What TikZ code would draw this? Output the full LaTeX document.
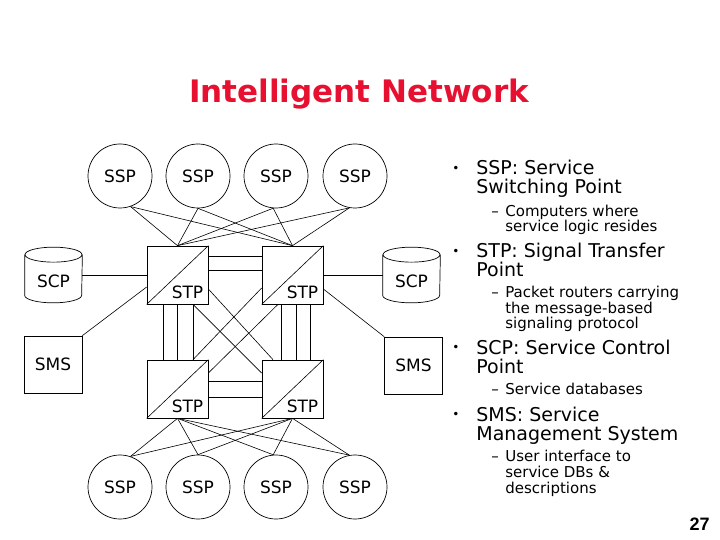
\documentclass[tikz,border=0pt]{standalone}
\usepackage{fontspec}
\setmainfont{DejaVu Sans}
\newfontfamily\numfont{Liberation Sans}
\definecolor{titlered}{RGB}{232,16,48}
\begin{document}
\begin{tikzpicture}[x=1pt,y=-1pt,line width=0.7pt,
  sspnode/.style={circle,draw,minimum size=64pt,inner sep=0pt,font=\fontsize{17}{17}\selectfont},
  stpbox/.style={draw,minimum width=61pt,minimum height=58pt,inner sep=0pt},
  smsbox/.style={draw,minimum width=58pt,minimum height=57pt,inner sep=0pt,font=\fontsize{17}{17}\selectfont},
  holder/.style={minimum width=57pt,minimum height=55pt,inner sep=0pt},
  lbl/.style={inner sep=0pt,font=\fontsize{17}{17}\selectfont},
  link/.style={draw,line width=0.6pt},
  mainline/.style={anchor=base west,inner sep=0pt,font=\fontsize{19}{19}\selectfont},
  subline/.style={anchor=base west,inner sep=0pt,font=\fontsize{15}{15}\selectfont},
  bul/.style={inner sep=0pt,font=\fontsize{12}{12}\selectfont},
]
\useasboundingbox (0,0) rectangle (720,540);

% title
\node[anchor=base,inner sep=0pt,text=titlered,font=\fontsize{31}{31}\selectfont\bfseries] (title) at (359,103) {Intelligent Network};

% SSP circles
\node[sspnode] (t1) at (120,176) {SSP};
\node[sspnode] (t2) at (198,176) {SSP};
\node[sspnode] (t3) at (276,176) {SSP};
\node[sspnode] (t4) at (355,176) {SSP};
\node[sspnode] (b1) at (120,487) {SSP};
\node[sspnode] (b2) at (198,487) {SSP};
\node[sspnode] (b3) at (276,487) {SSP};
\node[sspnode] (b4) at (355,487) {SSP};

% STP boxes
\node[stpbox] (s1) at (177.5,275) {};
\node[stpbox] (s2) at (292.5,275) {};
\node[stpbox] (s3) at (177.5,389) {};
\node[stpbox] (s4) at (292.5,389) {};
\foreach \s in {s1,s2,s3,s4}{
  \draw[link] (\s.south west) -- (\s.north east);
  \node[lbl] (\s t) at ([xshift=10pt,yshift=-17pt]\s.center) {STP};
}

% SCP cylinders
\node[holder] (c1) at (53.5,275) {};
\node[holder] (c2) at (411.5,275) {};
\foreach \c in {c1,c2}{
  \draw (\c.north) ++(0,7.5) ellipse[x radius=28.5pt,y radius=7.5pt];
  \draw ([yshift=-7.5pt]\c.north west) -- ([yshift=7.5pt]\c.south west)
        arc[start angle=180,end angle=360,x radius=28.5pt,y radius=7.5pt]
        -- ([yshift=-7.5pt]\c.north east);
  \node[lbl] (\c t) at ([yshift=-6pt]\c.center) {SCP};
}

% SMS boxes
\node[smsbox] (m1) at (53,364.5) {SMS};
\node[smsbox] (m2) at (413.5,365.5) {SMS};

% SSP to STP links (top)
\foreach \t/\a in {t1/-71,t2/-90,t3/-95,t4/-100}{
  \draw[link] (\t.\a) -- (s1.north);
  \draw[link] (\t.\a) -- (s2.north);
}
% STP to SSP links (bottom)
\foreach \b/\a in {b1/71,b2/90,b3/95,b4/100}{
  \draw[link] (\b.\a) -- (s3.south);
  \draw[link] (\b.\a) -- (s4.south);
}

% STP mesh
\draw[link] ([yshift=19pt]s1.east) -- ([yshift=19pt]s2.west);
\draw[link] ([yshift=5pt]s1.east) -- ([yshift=5pt]s2.west);
\draw[link] ([yshift=8pt]s3.east) -- ([yshift=8pt]s4.west);
\draw[link] ([yshift=-8pt]s3.east) -- ([yshift=-8pt]s4.west);
\foreach \d in {-14.5,0,15.5}{
  \draw[link] ([xshift=\d pt]s1.south) -- ([xshift=\d pt]s3.north);
}
\foreach \d in {-11.5,3.5,17.5}{
  \draw[link] ([xshift=\d pt]s2.south) -- ([xshift=\d pt]s4.north);
}
\draw[link] ([yshift=-14pt]s1.east) -- ([xshift=-19.5pt]s4.north);
\draw[link] ([xshift=15.5pt]s1.south) -- ([yshift=16pt]s4.west);
\draw[link] ([yshift=-13pt]s2.west) -- ([xshift=15.5pt]s3.north);
\draw[link] ([xshift=-14.5pt]s2.south) -- ([yshift=16pt]s3.east);

% SCP / SMS links
\draw[link] (c1.east) -- (s1.west);
\draw[link] (s2.east) -- (c2.west);
\draw[link] (m1.north east) -- ([yshift=-12pt]s1.west);
\draw[link] ([yshift=-14pt]s2.east) -- (m2.north west);

% bullet text
\node[bul] (d1) at (456,169) {•};
\node[mainline] (p1a) at (476,175) {SSP: Service};
\node[mainline] (p1b) at (476,194) {Switching Point};
\node[subline] (e1) at (491,216) {–};
\node[subline] (q1a) at (505,216) {Computers where};
\node[subline] (q1b) at (505,231) {service logic resides};

\node[bul] (d2) at (456,252) {•};
\node[mainline] (p2a) at (476,258) {STP: Signal Transfer};
\node[mainline] (p2b) at (476,276) {Point};
\node[subline] (e2) at (491,297) {–};
\node[subline] (q2a) at (505,297) {Packet routers carrying};
\node[subline] (q2b) at (505,313) {the message-based};
\node[subline] (q2c) at (505,328) {signaling protocol};

\node[bul] (d3) at (456,348) {•};
\node[mainline] (p3a) at (476,354) {SCP: Service Control};
\node[mainline] (p3b) at (476,373) {Point};
\node[subline] (e3) at (491,394) {–};
\node[subline] (q3a) at (505,394) {Service databases};

\node[bul] (d4) at (456,415) {•};
\node[mainline] (p4a) at (476,421) {SMS: Service};
\node[mainline] (p4b) at (476,440) {Management System};
\node[subline] (e4) at (491,461) {–};
\node[subline] (q4a) at (505,461) {User interface to};
\node[subline] (q4b) at (505,477) {service DBs \&};
\node[subline] (q4c) at (505,493) {descriptions};

\node[anchor=base east,inner sep=0pt,font=\numfont\bfseries\fontsize{18}{18}\selectfont] (pg) at (710,530) {27};
\end{tikzpicture}
\end{document}
